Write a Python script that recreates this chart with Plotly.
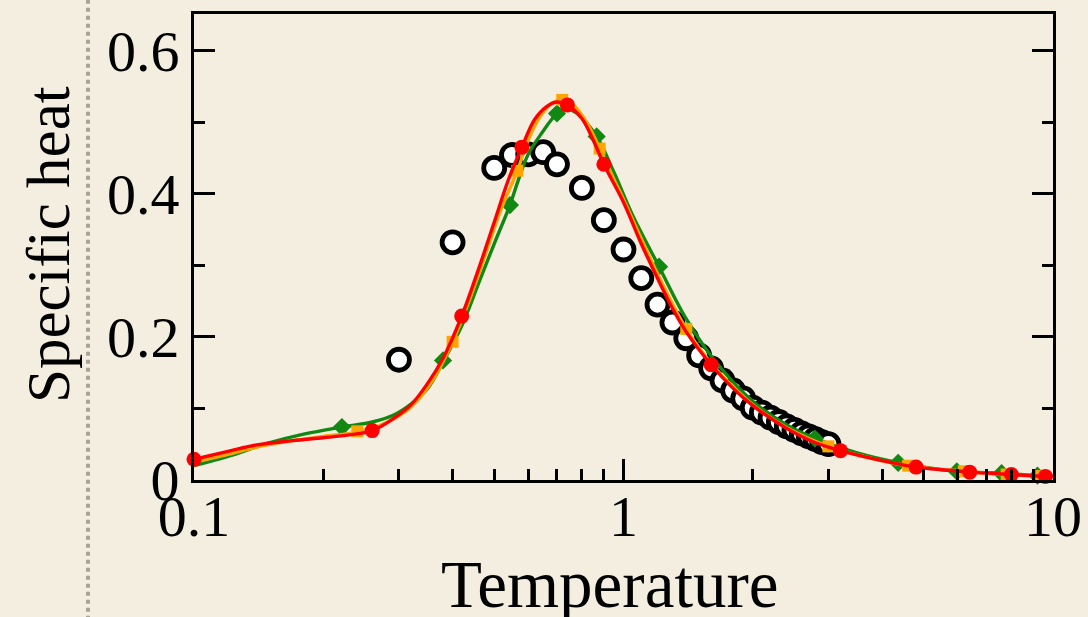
import plotly.graph_objects as go

# ---- data ----
circ_x = [0.3, 0.4, 0.5, 0.55, 0.6, 0.65, 0.7, 0.8, 0.9, 1.0, 1.1, 1.2, 1.3, 1.4, 1.5, 1.6,
          1.7, 1.8, 1.9, 2.0, 2.1, 2.2, 2.3, 2.4, 2.5, 2.6, 2.7, 2.8, 2.9, 3.0]
circ_y = [0.168, 0.332, 0.436, 0.454, 0.455, 0.458, 0.441, 0.408, 0.363, 0.322, 0.282, 0.245,
          0.220, 0.198, 0.174, 0.156, 0.139, 0.125, 0.114, 0.101, 0.094, 0.087, 0.081, 0.075,
          0.070, 0.065, 0.061, 0.057, 0.053, 0.050]

green_curve_x = [0.1, 0.12, 0.148, 0.18, 0.221, 0.26, 0.29, 0.32, 0.35, 0.38, 0.42, 0.46, 0.50,
                 0.544, 0.569, 0.6, 0.644, 0.70, 0.735, 0.78, 0.866, 0.95, 1.05, 1.21, 1.4, 1.63,
                 2.0, 2.4, 2.8, 3.5, 4.4, 6.0, 7.6, 9.2, 10.0]
green_curve_y = [0.020, 0.033, 0.051, 0.064, 0.074, 0.081, 0.090, 0.106, 0.128, 0.165, 0.215,
                 0.275, 0.330, 0.384, 0.419, 0.455, 0.484, 0.512, 0.519, 0.512, 0.480, 0.430,
                 0.370, 0.298, 0.225, 0.167, 0.110, 0.077, 0.058, 0.038, 0.024, 0.012, 0.0095,
                 0.006, 0.0055]
green_mark_x = [0.221, 0.38, 0.544, 0.70, 0.866, 1.21, 2.79, 4.36, 5.97, 7.59, 9.2]
green_mark_y = [0.074, 0.167, 0.384, 0.512, 0.480, 0.298, 0.058, 0.024, 0.012, 0.0095, 0.006]

orange_curve_x = [0.1, 0.12, 0.14, 0.17, 0.2, 0.24, 0.28, 0.32, 0.36, 0.40, 0.44, 0.48, 0.52,
                  0.566, 0.6, 0.64, 0.68, 0.72, 0.76, 0.82, 0.88, 0.95, 1.0, 1.1, 1.2, 1.4, 1.6,
                  1.8, 2.0, 2.4, 3.0, 3.8, 4.6, 6.2, 7.8, 9.4, 10.0]
orange_curve_y = [0.025, 0.036, 0.046, 0.055, 0.061, 0.067, 0.080, 0.102, 0.140, 0.193, 0.255,
                  0.320, 0.380, 0.432, 0.475, 0.508, 0.526, 0.531, 0.525, 0.500, 0.463, 0.420,
                  0.392, 0.337, 0.288, 0.211, 0.163, 0.130, 0.105, 0.073, 0.047, 0.030, 0.020,
                  0.0123, 0.0077, 0.0055, 0.005]
orange_mark_x = [0.24, 0.40, 0.566, 0.72, 0.88, 1.4, 3.0, 4.6, 6.2, 7.8, 9.4]
orange_mark_y = [0.068, 0.193, 0.432, 0.531, 0.463, 0.211, 0.047, 0.020, 0.0123, 0.0077, 0.0055]

red_curve_x = [0.1, 0.12, 0.14, 0.17, 0.2, 0.23, 0.26, 0.29, 0.32, 0.35, 0.38, 0.42, 0.46, 0.5,
               0.54, 0.58, 0.62, 0.66, 0.70, 0.74, 0.8, 0.85, 0.9, 1.0, 1.1, 1.2, 1.3, 1.4, 1.6,
               1.8, 2.0, 2.4, 2.8, 3.2, 4.0, 4.8, 5.6, 6.4, 8.0, 9.6, 10.0]
red_curve_y = [0.029, 0.040, 0.049, 0.055, 0.059, 0.063, 0.069, 0.085, 0.105, 0.135, 0.170,
               0.229, 0.295, 0.360, 0.420, 0.465, 0.503, 0.521, 0.528, 0.524, 0.505, 0.475,
               0.441, 0.388, 0.330, 0.282, 0.240, 0.207, 0.161, 0.128, 0.104, 0.072, 0.052,
               0.041, 0.027, 0.018, 0.014, 0.011, 0.0077, 0.005, 0.0048]
red_mark_x = [0.1, 0.26, 0.42, 0.58, 0.74, 0.90, 1.6, 3.2, 4.8, 6.4, 8.0, 9.6]
red_mark_y = [0.029, 0.069, 0.229, 0.465, 0.524, 0.441, 0.161, 0.041, 0.018, 0.011, 0.0077, 0.005]

x_tick_vals = [0.1, 1, 10]
x_tick_text = ["0.1", "1", "10"]
x_minor_vals = [0.2, 0.3, 0.4, 0.5, 0.6, 0.7, 0.8, 0.9, 2, 3, 4, 5, 6, 7, 8, 9]
y_tick_vals = [0, 0.2, 0.4, 0.6]
y_tick_text = ["0", "0.2", "0.4", "0.6"]
y_minor_vals = [0.1, 0.3, 0.5]
x_title = "Temperature"
y_title = "Specific heat"

BG = "#f3eee0"
FONT = "Liberation Serif"

fig = go.Figure()

fig.add_trace(go.Scatter(
    x=circ_x, y=circ_y, mode="markers", showlegend=False, cliponaxis=False,
    marker=dict(symbol="circle", size=21, color="white", line=dict(color="black", width=4.8)),
))

for cx, cy, mx, my, col, sym, msz in [
    (green_curve_x, green_curve_y, green_mark_x, green_mark_y, "#118811", "diamond", 14),
    (orange_curve_x, orange_curve_y, orange_mark_x, orange_mark_y, "#ffa500", "square", 12),
    (red_curve_x, red_curve_y, red_mark_x, red_mark_y, "#ff0000", "circle", 15),
]:
    fig.add_trace(go.Scatter(
        x=cx, y=cy, mode="lines", showlegend=False,
        line=dict(color=col, width=3.4, shape="spline", smoothing=1.0),
    ))
    fig.add_trace(go.Scatter(
        x=mx, y=my, mode="markers", showlegend=False, cliponaxis=False,
        marker=dict(symbol=sym, size=msz, color=col, line=dict(width=0)),
    ))

fig.add_shape(type="line", xref="paper", yref="paper", x0=-0.1234, x1=-0.1234, y0=-0.3, y1=1.05,
              line=dict(color="#aaa59b", width=4, dash="dot"), layer="below")

fig.add_annotation(text=x_title, xref="paper", yref="paper", x=(610 - 194) / 859, y=-(584 - 480) / 466,
                   xanchor="center", yanchor="middle", showarrow=False,
                   font=dict(family=FONT, size=67, color="black"))
fig.add_annotation(text=y_title, xref="paper", yref="paper", x=-(194 - 48) / 859, y=(480 - 245) / 466,
                   xanchor="center", yanchor="middle", showarrow=False, textangle=-90,
                   font=dict(family=FONT, size=61, color="black"))

fig.update_layout(
    width=1088, height=617,
    margin=dict(l=194, r=35, t=14, b=137, autoexpand=False),
    paper_bgcolor=BG, plot_bgcolor=BG,
    font=dict(family=FONT, color="black", size=58),
    showlegend=False,
    xaxis=dict(
        type="log", range=[-1, 1], automargin=False,
        tickvals=x_tick_vals, ticktext=x_tick_text,
        ticks="inside", ticklen=21, tickwidth=3, tickcolor="black",
        showline=True, linecolor="black", linewidth=3, mirror=True,
        showgrid=False, zeroline=False,
        tickfont=dict(family=FONT, size=58),
        ticklabelstandoff=-17,
        minor=dict(tickvals=x_minor_vals, ticks="inside", ticklen=11, tickwidth=3,
                   tickcolor="black", showgrid=False),
    ),
    yaxis=dict(
        range=[0, 0.651], automargin=False,
        tickvals=y_tick_vals, ticktext=y_tick_text,
        ticks="inside", ticklen=21, tickwidth=3, tickcolor="black",
        showline=True, linecolor="black", linewidth=3, mirror="ticks",
        showgrid=False, zeroline=False,
        tickfont=dict(family=FONT, size=58),
        ticklabelstandoff=0,
        minor=dict(tickvals=y_minor_vals, ticks="inside", ticklen=11, tickwidth=3,
                   tickcolor="black", showgrid=False),
    ),
)

fig.write_html(
    "out.html",
    config={"displayModeBar": False},
    post_script="document.body.style.margin='0';document.body.style.background='%s';" % BG,
)
